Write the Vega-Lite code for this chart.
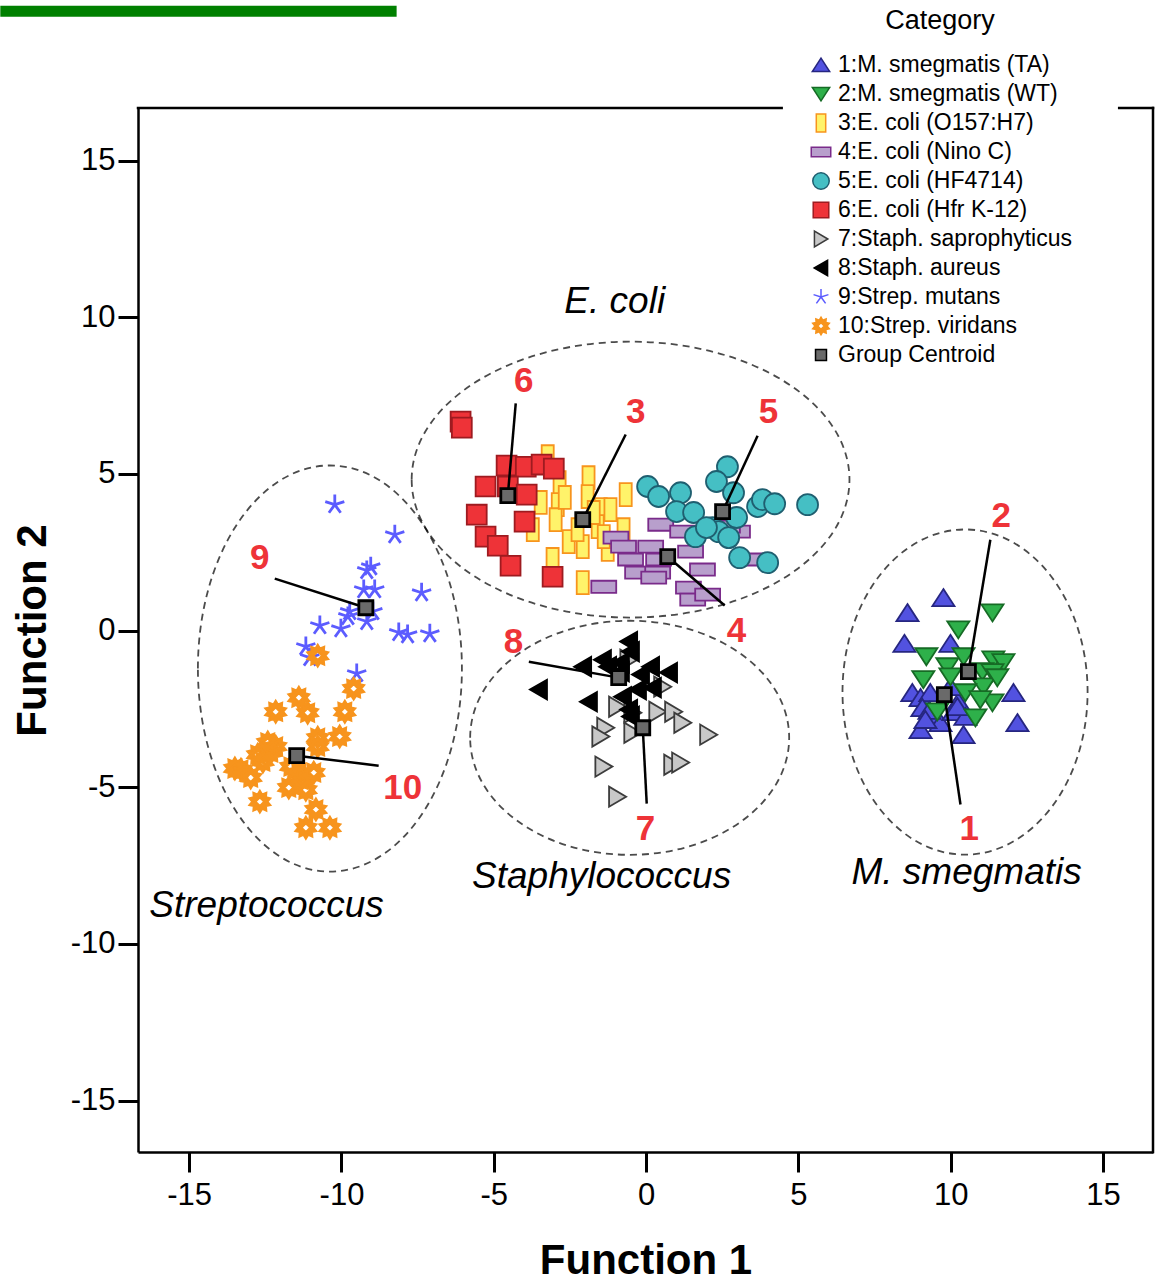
{
  "$schema": "https://vega.github.io/schema/vega-lite/v6.json",
  "width": 1015,
  "height": 1044,
  "autosize": {"type": "none"},
  "padding": {"left": 138, "top": 108, "right": 3, "bottom": 130},
  "background": "white",
  "datasets": {
    "pts": [
      {"Category": "1:M. smegmatis (TA)", "x": 9.76, "y": 1.05},
      {"Category": "1:M. smegmatis (TA)", "x": 8.58, "y": 0.57},
      {"Category": "1:M. smegmatis (TA)", "x": 8.48, "y": -0.41},
      {"Category": "1:M. smegmatis (TA)", "x": 9.99, "y": -0.41},
      {"Category": "1:M. smegmatis (TA)", "x": 8.74, "y": -1.98},
      {"Category": "1:M. smegmatis (TA)", "x": 9.01, "y": -2.14},
      {"Category": "1:M. smegmatis (TA)", "x": 9.33, "y": -1.98},
      {"Category": "1:M. smegmatis (TA)", "x": 9.07, "y": -2.46},
      {"Category": "1:M. smegmatis (TA)", "x": 9.40, "y": -2.74},
      {"Category": "1:M. smegmatis (TA)", "x": 9.01, "y": -3.16},
      {"Category": "1:M. smegmatis (TA)", "x": 9.66, "y": -2.94},
      {"Category": "1:M. smegmatis (TA)", "x": 10.25, "y": -2.27},
      {"Category": "1:M. smegmatis (TA)", "x": 10.09, "y": -2.59},
      {"Category": "1:M. smegmatis (TA)", "x": 10.48, "y": -2.74},
      {"Category": "1:M. smegmatis (TA)", "x": 10.42, "y": -3.32},
      {"Category": "1:M. smegmatis (TA)", "x": 12.06, "y": -1.98},
      {"Category": "1:M. smegmatis (TA)", "x": 12.19, "y": -2.94},
      {"Category": "1:M. smegmatis (TA)", "x": 9.99, "y": -1.79},
      {"Category": "1:M. smegmatis (TA)", "x": 9.30, "y": -2.55},
      {"Category": "1:M. smegmatis (TA)", "x": 9.17, "y": -2.84},
      {"Category": "1:M. smegmatis (TA)", "x": 10.22, "y": -2.43},
      {"Category": "2:M. smegmatis (WT)", "x": 11.37, "y": 0.57},
      {"Category": "2:M. smegmatis (WT)", "x": 10.25, "y": 0.03},
      {"Category": "2:M. smegmatis (WT)", "x": 9.20, "y": -0.83},
      {"Category": "2:M. smegmatis (WT)", "x": 9.89, "y": -1.15},
      {"Category": "2:M. smegmatis (WT)", "x": 10.42, "y": -0.83},
      {"Category": "2:M. smegmatis (WT)", "x": 11.40, "y": -0.93},
      {"Category": "2:M. smegmatis (WT)", "x": 11.73, "y": -1.02},
      {"Category": "2:M. smegmatis (WT)", "x": 9.10, "y": -1.56},
      {"Category": "2:M. smegmatis (WT)", "x": 9.99, "y": -1.47},
      {"Category": "2:M. smegmatis (WT)", "x": 11.04, "y": -1.31},
      {"Category": "2:M. smegmatis (WT)", "x": 11.37, "y": -1.34},
      {"Category": "2:M. smegmatis (WT)", "x": 11.07, "y": -1.79},
      {"Category": "2:M. smegmatis (WT)", "x": 11.53, "y": -1.50},
      {"Category": "2:M. smegmatis (WT)", "x": 10.48, "y": -1.98},
      {"Category": "2:M. smegmatis (WT)", "x": 11.37, "y": -2.30},
      {"Category": "2:M. smegmatis (WT)", "x": 9.56, "y": -2.59},
      {"Category": "2:M. smegmatis (WT)", "x": 10.81, "y": -2.78},
      {"Category": "2:M. smegmatis (WT)", "x": 10.97, "y": -2.20},
      {"Category": "3:E. coli (O157:H7)", "x": -3.23, "y": 5.55},
      {"Category": "3:E. coli (O157:H7)", "x": -2.84, "y": 4.72},
      {"Category": "3:E. coli (O157:H7)", "x": -3.46, "y": 4.09},
      {"Category": "3:E. coli (O157:H7)", "x": -2.90, "y": 4.02},
      {"Category": "3:E. coli (O157:H7)", "x": -3.72, "y": 3.22},
      {"Category": "3:E. coli (O157:H7)", "x": -2.97, "y": 3.54},
      {"Category": "3:E. coli (O157:H7)", "x": -1.89, "y": 4.88},
      {"Category": "3:E. coli (O157:H7)", "x": -1.92, "y": 4.28},
      {"Category": "3:E. coli (O157:H7)", "x": -1.49, "y": 3.86},
      {"Category": "3:E. coli (O157:H7)", "x": -1.17, "y": 3.86},
      {"Category": "3:E. coli (O157:H7)", "x": -0.67, "y": 4.34},
      {"Category": "3:E. coli (O157:H7)", "x": -2.54, "y": 2.84},
      {"Category": "3:E. coli (O157:H7)", "x": -2.08, "y": 2.68},
      {"Category": "3:E. coli (O157:H7)", "x": -2.25, "y": 3.22},
      {"Category": "3:E. coli (O157:H7)", "x": -1.59, "y": 3.32},
      {"Category": "3:E. coli (O157:H7)", "x": -0.74, "y": 3.22},
      {"Category": "3:E. coli (O157:H7)", "x": -1.26, "y": 2.59},
      {"Category": "3:E. coli (O157:H7)", "x": -3.07, "y": 2.27},
      {"Category": "3:E. coli (O157:H7)", "x": -2.08, "y": 1.53},
      {"Category": "3:E. coli (O157:H7)", "x": -1.39, "y": 3.00},
      {"Category": "3:E. coli (O157:H7)", "x": -1.72, "y": 3.77},
      {"Category": "3:E. coli (O157:H7)", "x": -2.67, "y": 4.25},
      {"Category": "4:E. coli (Nino C)", "x": 0.48, "y": 3.38},
      {"Category": "4:E. coli (Nino C)", "x": 1.20, "y": 3.16},
      {"Category": "4:E. coli (Nino C)", "x": -0.99, "y": 2.97},
      {"Category": "4:E. coli (Nino C)", "x": -0.74, "y": 2.68},
      {"Category": "4:E. coli (Nino C)", "x": 0.15, "y": 2.68},
      {"Category": "4:E. coli (Nino C)", "x": -0.51, "y": 2.27},
      {"Category": "4:E. coli (Nino C)", "x": 0.41, "y": 2.27},
      {"Category": "4:E. coli (Nino C)", "x": 1.46, "y": 2.52},
      {"Category": "4:E. coli (Nino C)", "x": -0.28, "y": 1.85},
      {"Category": "4:E. coli (Nino C)", "x": 0.38, "y": 1.85},
      {"Category": "4:E. coli (Nino C)", "x": 0.25, "y": 1.69},
      {"Category": "4:E. coli (Nino C)", "x": 1.85, "y": 1.95},
      {"Category": "4:E. coli (Nino C)", "x": -1.39, "y": 1.40},
      {"Category": "4:E. coli (Nino C)", "x": 1.39, "y": 1.37},
      {"Category": "4:E. coli (Nino C)", "x": 1.53, "y": 0.99},
      {"Category": "4:E. coli (Nino C)", "x": 3.00, "y": 3.16},
      {"Category": "4:E. coli (Nino C)", "x": 3.53, "y": 2.27},
      {"Category": "4:E. coli (Nino C)", "x": 2.02, "y": 1.15},
      {"Category": "4:E. coli (Nino C)", "x": 2.67, "y": 3.32},
      {"Category": "5:E. coli (HF4714)", "x": 0.05, "y": 4.60},
      {"Category": "5:E. coli (HF4714)", "x": 0.41, "y": 4.28},
      {"Category": "5:E. coli (HF4714)", "x": 1.13, "y": 4.40},
      {"Category": "5:E. coli (HF4714)", "x": 1.00, "y": 3.80},
      {"Category": "5:E. coli (HF4714)", "x": 1.56, "y": 3.77},
      {"Category": "5:E. coli (HF4714)", "x": 2.67, "y": 5.23},
      {"Category": "5:E. coli (HF4714)", "x": 2.31, "y": 4.76},
      {"Category": "5:E. coli (HF4714)", "x": 2.87, "y": 4.40},
      {"Category": "5:E. coli (HF4714)", "x": 3.66, "y": 3.96},
      {"Category": "5:E. coli (HF4714)", "x": 3.82, "y": 4.18},
      {"Category": "5:E. coli (HF4714)", "x": 4.22, "y": 4.05},
      {"Category": "5:E. coli (HF4714)", "x": 5.30, "y": 4.02},
      {"Category": "5:E. coli (HF4714)", "x": 2.97, "y": 3.61},
      {"Category": "5:E. coli (HF4714)", "x": 1.62, "y": 3.00},
      {"Category": "5:E. coli (HF4714)", "x": 2.18, "y": 3.29},
      {"Category": "5:E. coli (HF4714)", "x": 2.38, "y": 3.16},
      {"Category": "5:E. coli (HF4714)", "x": 2.71, "y": 2.97},
      {"Category": "5:E. coli (HF4714)", "x": 3.07, "y": 2.33},
      {"Category": "5:E. coli (HF4714)", "x": 3.99, "y": 2.17},
      {"Category": "5:E. coli (HF4714)", "x": 1.98, "y": 3.29},
      {"Category": "6:E. coli (Hfr K-12)", "x": -6.09, "y": 6.67},
      {"Category": "6:E. coli (Hfr K-12)", "x": -6.05, "y": 6.48},
      {"Category": "6:E. coli (Hfr K-12)", "x": -4.58, "y": 5.27},
      {"Category": "6:E. coli (Hfr K-12)", "x": -3.95, "y": 5.23},
      {"Category": "6:E. coli (Hfr K-12)", "x": -3.43, "y": 5.30},
      {"Category": "6:E. coli (Hfr K-12)", "x": -3.03, "y": 5.17},
      {"Category": "6:E. coli (Hfr K-12)", "x": -5.27, "y": 4.60},
      {"Category": "6:E. coli (Hfr K-12)", "x": -4.54, "y": 4.60},
      {"Category": "6:E. coli (Hfr K-12)", "x": -3.92, "y": 4.34},
      {"Category": "6:E. coli (Hfr K-12)", "x": -5.56, "y": 3.70},
      {"Category": "6:E. coli (Hfr K-12)", "x": -3.99, "y": 3.48},
      {"Category": "6:E. coli (Hfr K-12)", "x": -5.27, "y": 3.00},
      {"Category": "6:E. coli (Hfr K-12)", "x": -4.87, "y": 2.71},
      {"Category": "6:E. coli (Hfr K-12)", "x": -4.45, "y": 2.07},
      {"Category": "6:E. coli (Hfr K-12)", "x": -3.07, "y": 1.72},
      {"Category": "7:Staph. saprophyticus", "x": 0.54, "y": -1.79},
      {"Category": "7:Staph. saprophyticus", "x": -0.94, "y": -2.43},
      {"Category": "7:Staph. saprophyticus", "x": -0.44, "y": -2.62},
      {"Category": "7:Staph. saprophyticus", "x": 0.38, "y": -2.59},
      {"Category": "7:Staph. saprophyticus", "x": 0.90, "y": -2.59},
      {"Category": "7:Staph. saprophyticus", "x": 1.20, "y": -2.94},
      {"Category": "7:Staph. saprophyticus", "x": -1.33, "y": -3.10},
      {"Category": "7:Staph. saprophyticus", "x": -1.49, "y": -3.38},
      {"Category": "7:Staph. saprophyticus", "x": -0.44, "y": -3.26},
      {"Category": "7:Staph. saprophyticus", "x": 2.05, "y": -3.32},
      {"Category": "7:Staph. saprophyticus", "x": -1.39, "y": -4.34},
      {"Category": "7:Staph. saprophyticus", "x": 0.87, "y": -4.28},
      {"Category": "7:Staph. saprophyticus", "x": 1.13, "y": -4.21},
      {"Category": "7:Staph. saprophyticus", "x": -0.94, "y": -5.30},
      {"Category": "7:Staph. saprophyticus", "x": -0.57, "y": -0.93},
      {"Category": "8:Staph. aureus", "x": -0.57, "y": -0.35},
      {"Category": "8:Staph. aureus", "x": -0.51, "y": -0.67},
      {"Category": "8:Staph. aureus", "x": -2.08, "y": -1.15},
      {"Category": "8:Staph. aureus", "x": -1.43, "y": -0.93},
      {"Category": "8:Staph. aureus", "x": -1.26, "y": -1.15},
      {"Category": "8:Staph. aureus", "x": -0.84, "y": -1.02},
      {"Category": "8:Staph. aureus", "x": 0.15, "y": -1.15},
      {"Category": "8:Staph. aureus", "x": 0.74, "y": -1.34},
      {"Category": "8:Staph. aureus", "x": -0.18, "y": -1.40},
      {"Category": "8:Staph. aureus", "x": -3.53, "y": -1.88},
      {"Category": "8:Staph. aureus", "x": -1.89, "y": -2.27},
      {"Category": "8:Staph. aureus", "x": -0.77, "y": -2.11},
      {"Category": "8:Staph. aureus", "x": -0.28, "y": -1.88},
      {"Category": "8:Staph. aureus", "x": 0.21, "y": -1.82},
      {"Category": "8:Staph. aureus", "x": -0.57, "y": -2.52},
      {"Category": "8:Staph. aureus", "x": -0.51, "y": -2.74},
      {"Category": "8:Staph. aureus", "x": -0.84, "y": -1.31},
      {"Category": "9:Strep. mutans", "x": -10.22, "y": 4.02},
      {"Category": "9:Strep. mutans", "x": -8.25, "y": 3.06},
      {"Category": "9:Strep. mutans", "x": -9.04, "y": 2.04},
      {"Category": "9:Strep. mutans", "x": -9.17, "y": 1.92},
      {"Category": "9:Strep. mutans", "x": -8.91, "y": 1.31},
      {"Category": "9:Strep. mutans", "x": -9.27, "y": 1.31},
      {"Category": "9:Strep. mutans", "x": -7.37, "y": 1.21},
      {"Category": "9:Strep. mutans", "x": -9.73, "y": 0.61},
      {"Category": "9:Strep. mutans", "x": -9.79, "y": 0.45},
      {"Category": "9:Strep. mutans", "x": -9.17, "y": 0.29},
      {"Category": "9:Strep. mutans", "x": -8.97, "y": 0.61},
      {"Category": "9:Strep. mutans", "x": -10.71, "y": 0.16},
      {"Category": "9:Strep. mutans", "x": -10.02, "y": 0.06},
      {"Category": "9:Strep. mutans", "x": -8.12, "y": -0.06},
      {"Category": "9:Strep. mutans", "x": -7.83, "y": -0.13},
      {"Category": "9:Strep. mutans", "x": -7.10, "y": -0.10},
      {"Category": "9:Strep. mutans", "x": -11.17, "y": -0.51},
      {"Category": "9:Strep. mutans", "x": -11.04, "y": -0.86},
      {"Category": "9:Strep. mutans", "x": -9.50, "y": -1.37},
      {"Category": "10:Strep. viridans", "x": -10.78, "y": -0.80},
      {"Category": "10:Strep. viridans", "x": -9.60, "y": -1.85},
      {"Category": "10:Strep. viridans", "x": -9.89, "y": -2.59},
      {"Category": "10:Strep. viridans", "x": -10.06, "y": -3.38},
      {"Category": "10:Strep. viridans", "x": -12.16, "y": -2.59},
      {"Category": "10:Strep. viridans", "x": -11.40, "y": -2.14},
      {"Category": "10:Strep. viridans", "x": -11.11, "y": -2.62},
      {"Category": "10:Strep. viridans", "x": -10.78, "y": -3.42},
      {"Category": "10:Strep. viridans", "x": -10.78, "y": -3.70},
      {"Category": "10:Strep. viridans", "x": -12.16, "y": -3.70},
      {"Category": "10:Strep. viridans", "x": -12.32, "y": -3.89},
      {"Category": "10:Strep. viridans", "x": -12.75, "y": -3.96},
      {"Category": "10:Strep. viridans", "x": -13.30, "y": -4.44},
      {"Category": "10:Strep. viridans", "x": -12.98, "y": -4.69},
      {"Category": "10:Strep. viridans", "x": -11.73, "y": -5.01},
      {"Category": "10:Strep. viridans", "x": -11.40, "y": -4.53},
      {"Category": "10:Strep. viridans", "x": -10.91, "y": -4.53},
      {"Category": "10:Strep. viridans", "x": -11.17, "y": -5.08},
      {"Category": "10:Strep. viridans", "x": -12.68, "y": -5.46},
      {"Category": "10:Strep. viridans", "x": -10.84, "y": -5.71},
      {"Category": "10:Strep. viridans", "x": -11.17, "y": -6.29},
      {"Category": "10:Strep. viridans", "x": -10.38, "y": -6.29},
      {"Category": "10:Strep. viridans", "x": -11.33, "y": -4.76},
      {"Category": "10:Strep. viridans", "x": -11.66, "y": -4.34},
      {"Category": "10:Strep. viridans", "x": -12.42, "y": -3.57},
      {"Category": "10:Strep. viridans", "x": -13.50, "y": -4.40},
      {"Category": "10:Strep. viridans", "x": -12.58, "y": -4.18}
    ],
    "centroids": [
      {"Category": "Group Centroid", "group": "1", "x": 9.79, "y": -2.04},
      {"Category": "Group Centroid", "group": "2", "x": 10.58, "y": -1.31},
      {"Category": "Group Centroid", "group": "3", "x": -2.08, "y": 3.54},
      {"Category": "Group Centroid", "group": "4", "x": 0.71, "y": 2.36},
      {"Category": "Group Centroid", "group": "5", "x": 2.51, "y": 3.80},
      {"Category": "Group Centroid", "group": "6", "x": -4.54, "y": 4.31},
      {"Category": "Group Centroid", "group": "7", "x": -0.11, "y": -3.10},
      {"Category": "Group Centroid", "group": "8", "x": -0.90, "y": -1.50},
      {"Category": "Group Centroid", "group": "9", "x": -9.20, "y": 0.73},
      {"Category": "Group Centroid", "group": "10", "x": -11.47, "y": -3.99}
    ],
    "leaders": [
      {"group": "1", "x": 9.79, "y": -2.04, "x2": 10.32, "y2": -5.55},
      {"group": "2", "x": 10.58, "y": -1.31, "x2": 11.30, "y2": 2.90},
      {"group": "3", "x": -2.08, "y": 3.54, "x2": -0.67, "y2": 6.26},
      {"group": "4", "x": 0.71, "y": 2.36, "x2": 2.58, "y2": 0.80},
      {"group": "5", "x": 2.51, "y": 3.80, "x2": 3.66, "y2": 6.22},
      {"group": "6", "x": -4.54, "y": 4.31, "x2": -4.28, "y2": 7.25},
      {"group": "7", "x": -0.11, "y": -3.10, "x2": 0.02, "y2": -5.52},
      {"group": "8", "x": -0.90, "y": -1.50, "x2": -3.85, "y2": -0.99},
      {"group": "9", "x": -9.20, "y": 0.73, "x2": -12.19, "y2": 1.66},
      {"group": "10", "x": -11.47, "y": -3.99, "x2": -8.78, "y2": -4.31}
    ],
    "numbers": [
      {"group": "1", "x": 10.61, "y": -6.32},
      {"group": "2", "x": 11.66, "y": 3.67},
      {"group": "3", "x": -0.34, "y": 6.99},
      {"group": "4", "x": 2.97, "y": 0.00},
      {"group": "5", "x": 4.02, "y": 6.99},
      {"group": "6", "x": -4.02, "y": 7.98},
      {"group": "7", "x": -0.02, "y": -6.32},
      {"group": "8", "x": -4.35, "y": -0.35},
      {"group": "9", "x": -12.68, "y": 2.33},
      {"group": "10", "x": -7.99, "y": -5.01}
    ],
    "genera": [
      {"name": "E. coli", "x": -1.03, "y": 10.50},
      {"name": "Streptococcus", "x": -12.46, "y": -8.78},
      {"name": "Staphylococcus", "x": -1.46, "y": -7.85},
      {"name": "M. smegmatis", "x": 10.52, "y": -7.72}
    ],
    "frame": [
      {"x": -16.68, "y": 16.68, "x2": 4.45, "y2": 16.68},
      {"x": 15.53, "y": 16.68, "x2": 16.64, "y2": 16.68},
      {"x": 16.64, "y": -16.64, "x2": 16.64, "y2": 16.68}
    ]
  },
  "encoding": {
    "x": {
      "field": "x", "type": "quantitative", "title": "Function 1",
      "scale": {"domain": [-16.68, 16.64], "nice": false, "zero": false},
      "axis": {"values": [-15, -10, -5, 0, 5, 10, 15], "labelExpr": "'' + datum.value"}
    },
    "y": {
      "field": "y", "type": "quantitative", "title": "Function 2",
      "scale": {"domain": [-16.64, 16.68], "nice": false, "zero": false},
      "axis": {"values": [-15, -10, -5, 0, 5, 10, 15], "labelExpr": "'' + datum.value"}
    }
  },
  "layer": [
    {
      "data": {"name": "frame"},
      "mark": {"type": "rule", "color": "black", "strokeWidth": 2.5, "strokeCap": "square"},
      "encoding": {"x2": {"field": "x2"}, "y2": {"field": "y2"}}
    },
    {
      "data": {"values": [{"x": -0.51, "y": 4.82}]},
      "mark": {"type": "point", "filled": false, "stroke": "black", "strokeWidth": 1.8, "strokeDash": [7, 5], "size": 193600,
        "shape": "M-0.995,0A0.995,0.627,0,1,1,0.995,0A0.995,0.627,0,1,1,-0.995,0Z"}
    },
    {
      "data": {"values": [{"x": -10.38, "y": -1.21}]},
      "mark": {"type": "point", "filled": false, "stroke": "black", "strokeWidth": 1.8, "strokeDash": [7, 5], "size": 193600,
        "shape": "M-0.6,0A0.6,0.923,0,1,1,0.6,0A0.6,0.923,0,1,1,-0.6,0Z"}
    },
    {
      "data": {"values": [{"x": -0.54, "y": -3.42}]},
      "mark": {"type": "point", "filled": false, "stroke": "black", "strokeWidth": 1.8, "strokeDash": [7, 5], "size": 193600,
        "shape": "M-0.725,0A0.725,0.532,0,1,1,0.725,0A0.725,0.532,0,1,1,-0.725,0Z"}
    },
    {
      "data": {"values": [{"x": 10.47, "y": -1.96}]},
      "mark": {"type": "point", "filled": false, "stroke": "black", "strokeWidth": 1.8, "strokeDash": [7, 5], "size": 193600,
        "shape": "M-0.557,0A0.557,0.739,0,1,1,0.557,0A0.557,0.739,0,1,1,-0.557,0Z"}
    },
    {
      "data": {"values": [{"x": -21.2, "x2": -8.19, "y": 19.77}]},
      "mark": {"type": "rule", "color": "#008000", "strokeWidth": 11, "strokeCap": "butt"},
      "encoding": {"x2": {"field": "x2"}}
    },
    {
      "data": {"name": "pts"},
      "transform": [{"filter": "datum.Category === '9:Strep. mutans'"}],
      "mark": {"type": "point", "filled": true, "opacity": 1, "size": 784, "strokeWidth": 2.8},
      "encoding": {
        "fill": {"field": "Category", "type": "nominal", "scale": {"domain": ["1:M. smegmatis (TA)", "2:M. smegmatis (WT)", "3:E. coli (O157:H7)", "4:E. coli (Nino C)", "5:E. coli (HF4714)", "6:E. coli (Hfr K-12)", "7:Staph. saprophyticus", "8:Staph. aureus", "9:Strep. mutans", "10:Strep. viridans", "Group Centroid"], "range": ["#5252e0", "#2eb04a", "#fff36a", "#b89fcc", "#45bfc4", "#ee3338", "#c8c8c8", "#000000", "#5c5cff", "#f7941d", "#6a6a6a"]}},
        "stroke": {"field": "Category", "type": "nominal", "scale": {"domain": ["1:M. smegmatis (TA)", "2:M. smegmatis (WT)", "3:E. coli (O157:H7)", "4:E. coli (Nino C)", "5:E. coli (HF4714)", "6:E. coli (Hfr K-12)", "7:Staph. saprophyticus", "8:Staph. aureus", "9:Strep. mutans", "10:Strep. viridans", "Group Centroid"], "range": ["#262680", "#166b25", "#f7941d", "#7a2b8a", "#1f5f70", "#9e1b20", "#3c3c3c", "#000000", "#5c5cff", "#f7941d", "#000000"]}},
        "shape": {"field": "Category", "type": "nominal", "scale": {"domain": ["1:M. smegmatis (TA)", "2:M. smegmatis (WT)", "3:E. coli (O157:H7)", "4:E. coli (Nino C)", "5:E. coli (HF4714)", "6:E. coli (Hfr K-12)", "7:Staph. saprophyticus", "8:Staph. aureus", "9:Strep. mutans", "10:Strep. viridans", "Group Centroid"], "range": [
          "M0,-0.62L0.79,0.6L-0.79,0.6Z",
          "M0,0.62L0.79,-0.6L-0.79,-0.6Z",
          "M-0.43,-0.82L0.43,-0.82L0.43,0.82L-0.43,0.82Z",
          "M-0.89,-0.43L0.89,-0.43L0.89,0.43L-0.89,0.43Z",
          "M-0.75,0A0.75,0.75,0,1,1,0.75,0A0.75,0.75,0,1,1,-0.75,0Z",
          "M-0.71,-0.71L0.71,-0.71L0.71,0.71L-0.71,0.71Z",
          "M0.62,0L-0.6,-0.72L-0.6,0.72Z",
          "M-0.62,0L0.6,-0.7L0.6,0.7Z",
          "M0,0L0,-0.72M0,0L0.68,-0.22M0,0L0.42,0.58M0,0L-0.42,0.58M0,0L-0.68,-0.22",
          "M0,-0.8L0.17,-0.523L0.47,-0.647L0.445,-0.323L0.761,-0.247L0.55,0L0.761,0.247L0.445,0.323L0.47,0.647L0.17,0.523L0,0.8L-0.17,0.523L-0.47,0.647L-0.445,0.323L-0.761,0.247L-0.55,0L-0.761,-0.247L-0.445,-0.323L-0.47,-0.647L-0.17,-0.523ZM0,-0.3L-0.3,0L0,0.3L0.3,0Z",
          "M-0.5,-0.5L0.5,-0.5L0.5,0.5L-0.5,0.5Z"
        ]}}
      }
    },
    {
      "data": {"name": "pts"},
      "transform": [{"filter": "datum.Category !== '9:Strep. mutans'"}],
      "mark": {"type": "point", "filled": true, "opacity": 1, "size": 784, "strokeWidth": 1.8},
      "encoding": {
        "fill": {"field": "Category", "type": "nominal", "scale": {"domain": ["1:M. smegmatis (TA)", "2:M. smegmatis (WT)", "3:E. coli (O157:H7)", "4:E. coli (Nino C)", "5:E. coli (HF4714)", "6:E. coli (Hfr K-12)", "7:Staph. saprophyticus", "8:Staph. aureus", "9:Strep. mutans", "10:Strep. viridans", "Group Centroid"], "range": ["#5252e0", "#2eb04a", "#fff36a", "#b89fcc", "#45bfc4", "#ee3338", "#c8c8c8", "#000000", "#5c5cff", "#f7941d", "#6a6a6a"]}},
        "stroke": {"field": "Category", "type": "nominal", "scale": {"domain": ["1:M. smegmatis (TA)", "2:M. smegmatis (WT)", "3:E. coli (O157:H7)", "4:E. coli (Nino C)", "5:E. coli (HF4714)", "6:E. coli (Hfr K-12)", "7:Staph. saprophyticus", "8:Staph. aureus", "9:Strep. mutans", "10:Strep. viridans", "Group Centroid"], "range": ["#262680", "#166b25", "#f7941d", "#7a2b8a", "#1f5f70", "#9e1b20", "#3c3c3c", "#000000", "#5c5cff", "#f7941d", "#000000"]}},
        "shape": {"field": "Category", "type": "nominal", "scale": {"domain": ["1:M. smegmatis (TA)", "2:M. smegmatis (WT)", "3:E. coli (O157:H7)", "4:E. coli (Nino C)", "5:E. coli (HF4714)", "6:E. coli (Hfr K-12)", "7:Staph. saprophyticus", "8:Staph. aureus", "9:Strep. mutans", "10:Strep. viridans", "Group Centroid"], "range": [
          "M0,-0.62L0.79,0.6L-0.79,0.6Z",
          "M0,0.62L0.79,-0.6L-0.79,-0.6Z",
          "M-0.43,-0.82L0.43,-0.82L0.43,0.82L-0.43,0.82Z",
          "M-0.89,-0.43L0.89,-0.43L0.89,0.43L-0.89,0.43Z",
          "M-0.75,0A0.75,0.75,0,1,1,0.75,0A0.75,0.75,0,1,1,-0.75,0Z",
          "M-0.71,-0.71L0.71,-0.71L0.71,0.71L-0.71,0.71Z",
          "M0.62,0L-0.6,-0.72L-0.6,0.72Z",
          "M-0.62,0L0.6,-0.7L0.6,0.7Z",
          "M0,0L0,-0.72M0,0L0.68,-0.22M0,0L0.42,0.58M0,0L-0.42,0.58M0,0L-0.68,-0.22",
          "M0,-0.8L0.17,-0.523L0.47,-0.647L0.445,-0.323L0.761,-0.247L0.55,0L0.761,0.247L0.445,0.323L0.47,0.647L0.17,0.523L0,0.8L-0.17,0.523L-0.47,0.647L-0.445,0.323L-0.761,0.247L-0.55,0L-0.761,-0.247L-0.445,-0.323L-0.47,-0.647L-0.17,-0.523ZM0,-0.3L-0.3,0L0,0.3L0.3,0Z",
          "M-0.5,-0.5L0.5,-0.5L0.5,0.5L-0.5,0.5Z"
        ]}}
      }
    },
    {
      "data": {"name": "leaders"},
      "mark": {"type": "rule", "color": "black", "strokeWidth": 2.5},
      "encoding": {"x2": {"field": "x2"}, "y2": {"field": "y2"}}
    },
    {
      "data": {"name": "centroids"},
      "mark": {"type": "point", "filled": true, "opacity": 1, "size": 784, "strokeWidth": 2.8},
      "encoding": {
        "fill": {"field": "Category", "type": "nominal", "scale": {"domain": ["1:M. smegmatis (TA)", "2:M. smegmatis (WT)", "3:E. coli (O157:H7)", "4:E. coli (Nino C)", "5:E. coli (HF4714)", "6:E. coli (Hfr K-12)", "7:Staph. saprophyticus", "8:Staph. aureus", "9:Strep. mutans", "10:Strep. viridans", "Group Centroid"], "range": ["#5252e0", "#2eb04a", "#fff36a", "#b89fcc", "#45bfc4", "#ee3338", "#c8c8c8", "#000000", "#5c5cff", "#f7941d", "#6a6a6a"]}},
        "stroke": {"field": "Category", "type": "nominal", "scale": {"domain": ["1:M. smegmatis (TA)", "2:M. smegmatis (WT)", "3:E. coli (O157:H7)", "4:E. coli (Nino C)", "5:E. coli (HF4714)", "6:E. coli (Hfr K-12)", "7:Staph. saprophyticus", "8:Staph. aureus", "9:Strep. mutans", "10:Strep. viridans", "Group Centroid"], "range": ["#262680", "#166b25", "#f7941d", "#7a2b8a", "#1f5f70", "#9e1b20", "#3c3c3c", "#000000", "#5c5cff", "#f7941d", "#000000"]}},
        "shape": {"field": "Category", "type": "nominal", "scale": {"domain": ["1:M. smegmatis (TA)", "2:M. smegmatis (WT)", "3:E. coli (O157:H7)", "4:E. coli (Nino C)", "5:E. coli (HF4714)", "6:E. coli (Hfr K-12)", "7:Staph. saprophyticus", "8:Staph. aureus", "9:Strep. mutans", "10:Strep. viridans", "Group Centroid"], "range": [
          "M0,-0.62L0.79,0.6L-0.79,0.6Z",
          "M0,0.62L0.79,-0.6L-0.79,-0.6Z",
          "M-0.43,-0.82L0.43,-0.82L0.43,0.82L-0.43,0.82Z",
          "M-0.89,-0.43L0.89,-0.43L0.89,0.43L-0.89,0.43Z",
          "M-0.75,0A0.75,0.75,0,1,1,0.75,0A0.75,0.75,0,1,1,-0.75,0Z",
          "M-0.71,-0.71L0.71,-0.71L0.71,0.71L-0.71,0.71Z",
          "M0.62,0L-0.6,-0.72L-0.6,0.72Z",
          "M-0.62,0L0.6,-0.7L0.6,0.7Z",
          "M0,0L0,-0.72M0,0L0.68,-0.22M0,0L0.42,0.58M0,0L-0.42,0.58M0,0L-0.68,-0.22",
          "M0,-0.8L0.17,-0.523L0.47,-0.647L0.445,-0.323L0.761,-0.247L0.55,0L0.761,0.247L0.445,0.323L0.47,0.647L0.17,0.523L0,0.8L-0.17,0.523L-0.47,0.647L-0.445,0.323L-0.761,0.247L-0.55,0L-0.761,-0.247L-0.445,-0.323L-0.47,-0.647L-0.17,-0.523ZM0,-0.3L-0.3,0L0,0.3L0.3,0Z",
          "M-0.5,-0.5L0.5,-0.5L0.5,0.5L-0.5,0.5Z"
        ]}}
      }
    },
    {
      "data": {"name": "numbers"},
      "mark": {"type": "text", "font": "Liberation Sans", "fontSize": 35, "fontWeight": "bold", "color": "#ee3338", "align": "center", "baseline": "middle"},
      "encoding": {"text": {"field": "group"}}
    },
    {
      "data": {"name": "genera"},
      "mark": {"type": "text", "font": "Liberation Sans", "fontSize": 37, "fontStyle": "italic", "color": "black", "align": "center", "baseline": "middle"},
      "encoding": {"text": {"field": "name"}}
    }
  ],
  "config": {
    "view": {"stroke": null},
    "axis": {
      "grid": false, "domainColor": "black", "domainWidth": 2.5, "tickColor": "black", "tickWidth": 3, "tickSize": 20,
      "labelFont": "Liberation Sans", "labelFontSize": 31, "labelColor": "black",
      "titleFont": "Liberation Sans", "titleFontSize": 42, "titleFontWeight": "bold", "titleColor": "black"
    },
    "axisX": {"labelPadding": 8, "titlePadding": 30},
    "axisY": {"labelPadding": 3, "titlePadding": 16},
    "legend": {
      "orient": "none", "legendX": 661, "legendY": -110, "padding": 10,
      "titleFont": "Liberation Sans", "titleFontSize": 27, "titleFontWeight": "normal", "titleColor": "black", "titleAnchor": "middle", "titlePadding": 18,
      "labelFont": "Liberation Sans", "labelFontSize": 23, "labelColor": "black", "labelOffset": 5, "labelLimit": 400,
      "symbolSize": 480, "symbolStrokeWidth": 1.5, "rowPadding": 5
    }
  }
}
